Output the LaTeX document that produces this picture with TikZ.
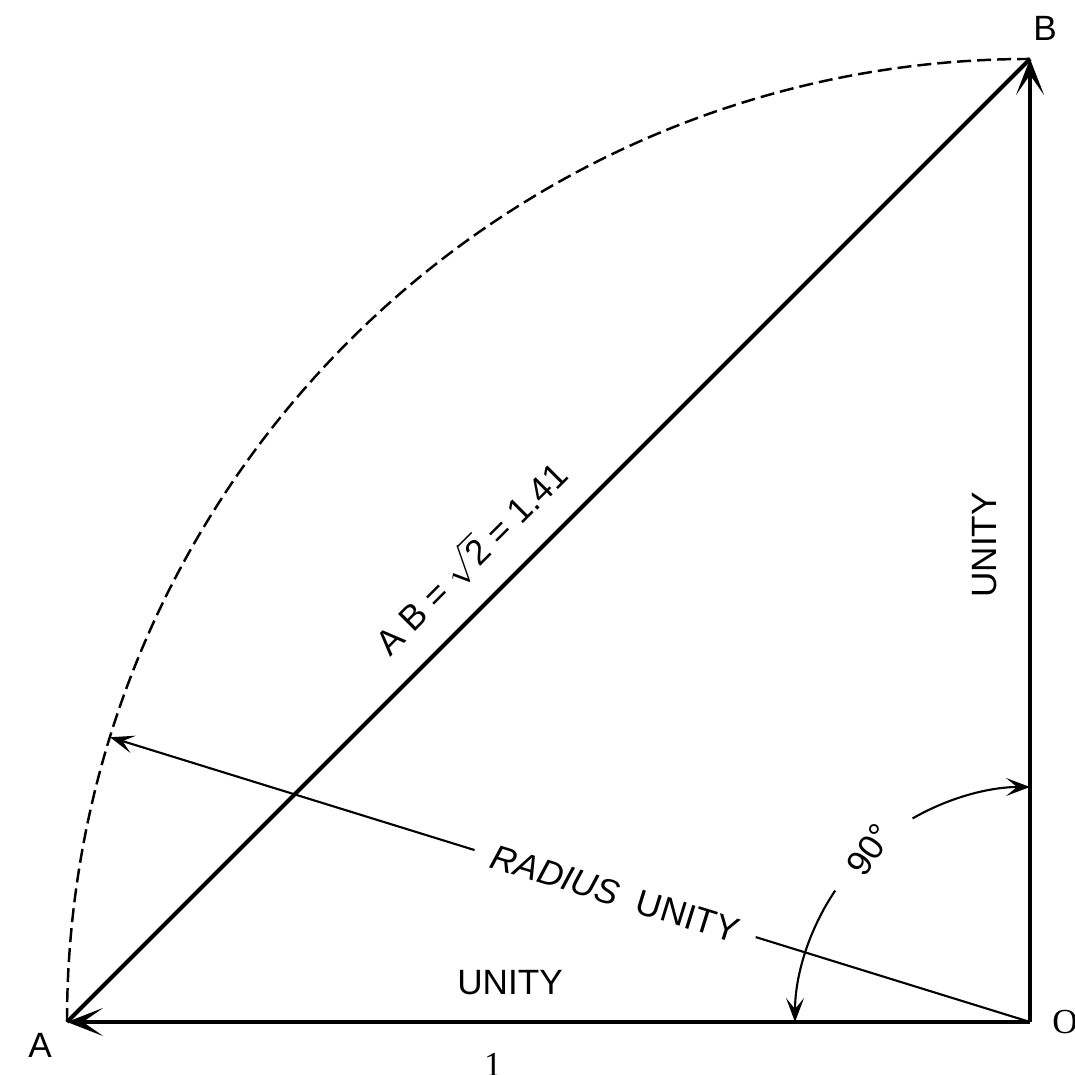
\documentclass[tikz,border=0pt]{standalone}
\usepackage{fontspec}
\setmainfont{Liberation Sans}
\newfontfamily\serifletter{Liberation Serif}
\usetikzlibrary{arrows.meta,calc}

\begin{document}
\begin{tikzpicture}[
  font=\fontsize{10}{12}\selectfont,
  heavy/.style={line width=1.2pt},
  fine/.style={line width=0.6pt},
  bigtip/.style={-{Stealth[length=3.6mm,width=2.8mm,inset=2mm]}},
  smalltip/.style={-{Stealth[length=2.4mm,width=1.8mm,inset=1.1mm]}},
  arcdash/.style={line width=0.7pt, dash pattern=on 1.4mm off 0.6mm},
  lbl/.style={inner sep=1pt}
]
\useasboundingbox (0,0) rectangle (10.75,10.75);

% corner points of the quarter circle
\coordinate (O) at (10.30,0.53);
\coordinate (A) at (0.67,0.53);
\coordinate (B) at (10.30,10.16);
\coordinate (R) at ($(O)+(162.8:9.63)$);

\draw[arcdash] (A) arc[start angle=180, end angle=90, radius=9.63];

\draw[heavy, bigtip] (O) -- (A);
\draw[heavy, bigtip] (O) -- (B);
\draw[heavy] (A) -- (B);

% radius, broken by its label
\node[lbl, inner sep=5pt, rotate=-17.2] (radlbl) at ($(O)!0.451!(R)$) {\textit{RADIUS} \ UNITY};
\draw[fine] (O) -- (radlbl);
\draw[fine, smalltip] (radlbl) -- (R);

% right angle at O
\node[lbl, rotate=55] (rightang) at ($(O)+(133:2.35)$) {90\textdegree};
\draw[fine, smalltip] ($(O)+(146:2.35)$) arc[start angle=146, end angle=180, radius=2.35];
\draw[fine, smalltip] ($(O)+(120:2.35)$) arc[start angle=120, end angle=90, radius=2.35];

\node[lbl] (labA) at (0.40,0.30) {A};
\node[lbl] (labB) at (10.45,10.47) {B};
\node[lbl] (labO) at (10.65,0.53) {\serifletter O};
\node[lbl] (labone) at (4.93,0.10) {\serifletter 1};

\node[lbl] (unitybase) at (5.10,0.92) {UNITY};
\node[lbl, rotate=90] (unityside) at (9.85,5.30) {UNITY};
\node[lbl, rotate=45] (ablbl) at (4.70,5.18) {A B = $\sqrt{\mbox{2}}$ = 1.41};

\end{tikzpicture}
\end{document}
